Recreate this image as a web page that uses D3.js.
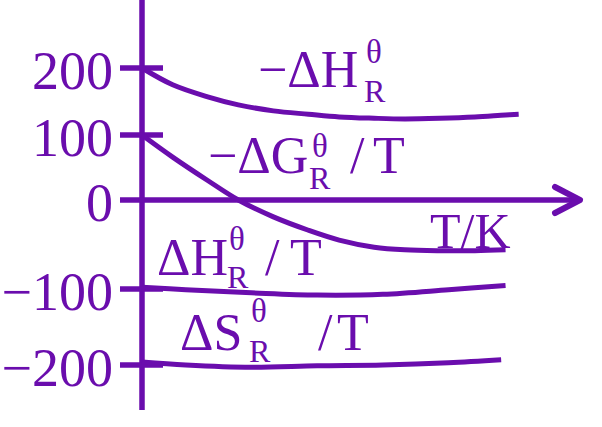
<!DOCTYPE html>
<html>
<head>
<meta charset="utf-8">
<script src="https://cdn.jsdelivr.net/npm/d3@7"></script>
<style>
  html, body { margin: 0; padding: 0; background: #fff; }
  svg { display: block; }
  text { font-family: "Liberation Serif", "Times New Roman", serif; fill: #6a0dad; }
</style>
</head>
<body>
<svg id="chart" width="602" height="427"></svg>
<script>
// ---- data ----
const yTicks = [200, 100, 0, -100, -200];
const yTickLabels = ["200", "100", "0", "\u2212100", "\u2212200"];

const negDeltaH_T = [0, 7, 15, 22, 30, 38, 45, 53, 60, 68, 76, 83, 86];
const negDeltaH_V = [200, 175, 157, 145, 136, 131, 127, 125, 124, 125, 127, 130, 131];

const negDeltaGT_T = [0, 7, 15, 22, 30, 38, 45, 53, 60, 68, 76, 83];
const negDeltaGT_V = [100, 66, 30, 0, -19, -34, -45, -53, -56, -57, -57, -56];

const deltaHT_T = [0, 10, 25, 40, 55, 70, 83];
const deltaHT_V = [-98, -101, -105, -108, -107, -101, -96];

const deltaST_T = [0, 10, 25, 40, 55, 70, 82];
const deltaST_V = [-196, -200, -203, -201, -200, -197, -193];

const seriesList = [
  [negDeltaH_T, negDeltaH_V],
  [negDeltaGT_T, negDeltaGT_V],
  [deltaHT_T, deltaHT_V],
  [deltaST_T, deltaST_V]
];

// label parts: [text, x, baseline y, font size]
const labels = [
  [["\u2212\u0394H", 258, 87, 52], ["\u03B8", 366, 63, 33], ["R", 364, 102, 32]],
  [["\u2212\u0394G", 208, 173, 52], ["\u03B8", 312, 157, 33], ["R", 309, 189, 32], ["/", 350, 173, 52], ["T", 373, 173, 52]],
  [["\u0394H", 157, 275, 52], ["\u03B8", 229, 250, 33], ["R", 227, 288, 32], ["/", 265, 275, 52], ["T", 290, 275, 52]],
  [["\u0394S", 180, 350, 52], ["\u03B8", 251, 322, 33], ["R", 249, 362, 32], ["/", 318, 350, 52], ["T", 337, 350, 52]],
  [["T/K", 430, 248, 50]]
];

// ---- drawing ----
const color = "#6a0dad";
const svg = d3.select("#chart");

const x = d3.scaleLinear().domain([0, 100]).range([142, 580]);
const y = d3.scaleLinear().domain([200, 100, 0, -100, -200]).range([68, 135, 200, 289, 365]);

// y axis line
svg.append("line")
  .attr("x1", x(0)).attr("x2", x(0))
  .attr("y1", 0).attr("y2", 410)
  .attr("stroke", color).attr("stroke-width", 5.5);

// x axis with arrow
svg.append("line")
  .attr("x1", 120).attr("x2", x(100) - 2)
  .attr("y1", y(0)).attr("y2", y(0))
  .attr("stroke", color).attr("stroke-width", 5.5);
svg.append("path")
  .attr("d", `M${x(100) - 25},${y(0) - 13} L${x(100)},${y(0)} L${x(100) - 25},${y(0) + 13}`)
  .attr("fill", "none").attr("stroke", color).attr("stroke-width", 6)
  .attr("stroke-linecap", "round").attr("stroke-linejoin", "round");

// ticks
svg.selectAll(".tick").data(yTicks.filter(d => d !== 0)).enter()
  .append("line")
  .attr("x1", 120).attr("x2", 163)
  .attr("y1", d => y(d)).attr("y2", d => y(d))
  .attr("stroke", color).attr("stroke-width", 5.5);

svg.selectAll(".tlabel").data(yTicks).enter()
  .append("text")
  .attr("x", 113)
  .attr("y", d => y(d) + 21)
  .attr("text-anchor", "end")
  .attr("font-size", 54)
  .text((d, i) => yTickLabels[i]);

// curves
const line = d3.line()
  .x(d => x(d[0]))
  .y(d => y(d[1]))
  .curve(d3.curveCatmullRom.alpha(0.5));

seriesList.forEach(([ts, vs]) => {
  svg.append("path")
    .datum(ts.map((t, i) => [t, vs[i]]))
    .attr("d", line)
    .attr("fill", "none")
    .attr("stroke", color)
    .attr("stroke-width", 5)
    .attr("stroke-linecap", "butt");
});

// labels
labels.forEach(parts => {
  parts.forEach(([t, lx, ly, fs]) => {
    svg.append("text")
      .attr("x", lx).attr("y", ly)
      .attr("font-size", fs)
      .text(t);
  });
});
</script>
</body>
</html>
